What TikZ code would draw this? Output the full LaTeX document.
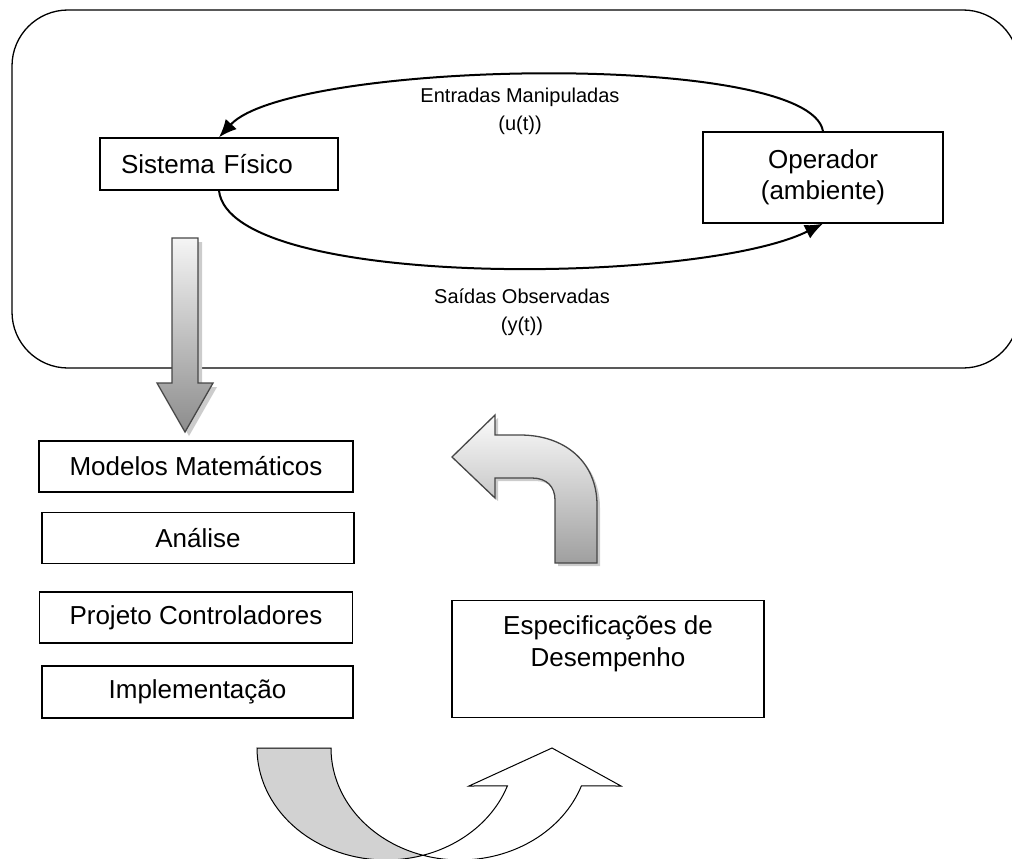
\documentclass[tikz,border=0pt]{standalone}
\usepackage{fontspec}
\setmainfont{Liberation Sans}
\usetikzlibrary{arrows.meta, positioning}

% block arrows, in pixel coordinates
\newcommand{\sinkpath}{(172,238) -- (198,238) -- (198,383) -- (213,383)
  -- (185,432) -- (157,383) -- (172,383) -- cycle}
\newcommand{\turnpath}{(452,457) -- (495,415) -- (495,435) -- (520,435)
  .. controls (565,435) and (597,462) .. (597,505) -- (597,563)
  -- (555,563) -- (555,500) .. controls (555,487) and (547,478) .. (532,478)
  -- (495,478) -- (495,498) -- cycle}

\begin{document}
\begin{tikzpicture}[x=1pt, y=-1pt, >=Latex,
  box/.style={draw, line width=1.3pt, fill=white, inner sep=0pt,
    font=\fontsize{26}{31}\selectfont, align=center},
  lbl/.style={font=\fontsize{20}{28}\selectfont, align=center},
  flow/.style={line width=2pt, -{Latex[length=18pt, width=15pt]}},
  ghost/.style={fill=gray!40, draw=none},
  fat/.style={draw=gray!55!black, line width=1.3pt}]
  \useasboundingbox (0,0) rectangle (1012,859);

  % process frame
  \draw[line width=1.3pt, rounded corners=56pt] (12,10) rectangle (1019,368);

  \node[box, minimum width=238pt, minimum height=52pt, text width=196pt,
    align=left] (sistema) at (219,164) {Sistema Físico};
  \node[box, minimum width=240pt, minimum height=91pt] (operador) at (823,177.5)
    {Operador\\(ambiente)};

  % loop between plant and operator
  \draw[flow] (operador.north) .. controls (810,50) and (290,60) .. (sistema.north);
  \draw[flow] (sistema.south) .. controls (230,290) and (700,285) .. (operador.south);
  \node[lbl] (entradas) at (520,111) {Entradas Manipuladas\\(u(t))};
  \node[lbl] (saidas) at (522,312) {Saídas Observadas\\(y(t))};

  % down arrow
  \fill[ghost, shift={(4,4)}] \sinkpath;
  \shade[fat, top color=gray!8, bottom color=gray!90] \sinkpath;

  % design steps
  \node[box, minimum width=314pt, minimum height=51pt] (modelos) at (196,466.5)
    {Modelos Matemáticos};
  \node[box, minimum width=312pt, minimum height=51pt] (analise) at (198,538)
    {Análise};
  \node[box, minimum width=313pt, minimum height=51pt] (projeto) at (196,617.5)
    {Projeto Controladores};
  \node[box, minimum width=311pt, minimum height=52pt] (implem) at (197.5,692)
    {Implementação};

  \node[box, minimum width=312pt, minimum height=117pt] (espec) at (608,659) {};
  \node[lbl, font=\fontsize{26}{32}\selectfont, inner sep=0pt,
    below=16pt of espec.north] (especTxt) {Especificações de\\Desempenho};

  % turning arrow
  \fill[ghost, shift={(3,3)}] \turnpath;
  \shade[fat, top color=gray!3, bottom color=gray!75] \turnpath;

  % curved up arrow
  \filldraw[fill=gray!35, draw=black, line width=1pt]
    plot[domain=180:73.3, samples=40] ({386+129*cos(\x)}, {748+112*sin(\x)})
    -- plot[domain=106.7:180, samples=40] ({460+129*cos(\x)}, {748+112*sin(\x)})
    -- cycle;
  \filldraw[fill=white, draw=black, line width=1pt]
    plot[domain=73.3:19.8, samples=40] ({386+129*cos(\x)}, {748+112*sin(\x)})
    -- (469,786) -- (552,748) -- (621,786)
    -- plot[domain=19.8:106.7, samples=40] ({460+129*cos(\x)}, {748+112*sin(\x)})
    -- cycle;
\end{tikzpicture}
\end{document}
